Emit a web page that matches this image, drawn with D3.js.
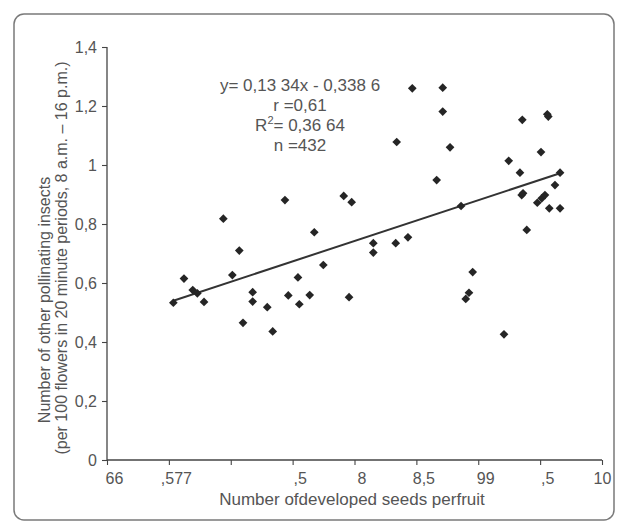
<!DOCTYPE html>
<html>
<head>
<meta charset="utf-8">
<script src="https://cdn.jsdelivr.net/npm/d3@7"></script>
<style>
  body { margin: 0; background: #fff; }
  svg { display: block; }
</style>
</head>
<body>
<svg id="chart" width="619" height="525"></svg>
<script>
// seeds per fruit (x) vs other pollinating insects (y)
const seeds = [
  6.536, 6.622, 6.693, 6.730, 6.784, 6.940, 7.013, 7.069, 7.099, 7.177,
  7.177, 7.295, 7.339, 7.438, 7.465, 7.543, 7.554, 7.638, 7.675, 7.748,
  7.913, 7.977, 7.956, 8.152, 8.152, 8.333, 8.341, 8.432, 8.467, 8.664,
  8.713, 8.713, 8.772, 8.861, 8.899, 8.925, 8.955, 9.208, 9.246, 9.337,
  9.351, 9.362, 9.356, 9.392, 9.477, 9.507, 9.513, 9.539, 9.558, 9.566,
  9.574, 9.620, 9.661, 9.661
];
const insects = [
  0.533, 0.615, 0.576, 0.565, 0.536, 0.818, 0.627, 0.710, 0.465, 0.569,
  0.537, 0.518, 0.436, 0.881, 0.558, 0.619, 0.528, 0.559, 0.772, 0.661,
  0.895, 0.874, 0.552, 0.735, 0.703, 0.735, 1.078, 0.755, 1.260, 0.949,
  1.262, 1.181, 1.060, 0.861, 0.546, 0.567, 0.637, 0.426, 1.014, 0.974,
  0.898, 0.904, 1.153, 0.780, 0.872, 1.044, 0.887, 0.898, 1.172, 1.164,
  0.853, 0.932, 0.974, 0.853
];

// fitted line, as drawn in the figure
const trendX = [6.536, 9.661];
const trendY = [0.540, 0.972];

const xTicks = [6, 6.5, 7, 7.5, 8, 8.5, 9, 9.5, 10];
const xTickLabels = ["66", ",577", "", ",5", "8", "8,5", "99", ",5", "10"];
const yTicks = [0, 0.2, 0.4, 0.6, 0.8, 1, 1.2, 1.4];
const yTickLabels = ["0", "0,2", "0,4", "0,6", "0,8", "1", "1,2", "1,4"];

const statLines = ["y= 0,13 34x - 0,338 6", "r =0,61", "R2= 0,36 64", "n =432"];

const font = "'Liberation Sans', Arial, sans-serif";
const textColor = "#555";

const svg = d3.select("#chart");
const margin = { top: 47, right: 17, bottom: 65, left: 107 };
const W = 619, H = 525;
const innerW = W - margin.left - margin.right,
    innerH = H - margin.top - margin.bottom;

// scanned frame
svg.append("rect")
    .attr("x", 14).attr("y", 14)
    .attr("width", 600).attr("height", 506)
    .attr("rx", 10)
    .attr("fill", "#fff")
    .attr("stroke", "#7a7a7a").attr("stroke-width", 1.5);

const g = svg.append("g").attr("transform", `translate(${margin.left},${margin.top})`);

const x = d3.scaleLinear().domain([6, 10]).range([0, innerW]);
const y = d3.scaleLinear().domain([0, 1.4]).range([innerH, 0]);

// y axis
const yAxis = g.append("g")
    .call(d3.axisLeft(y).tickValues(yTicks).tickSize(5).tickPadding(5)
        .tickFormat((d, i) => yTickLabels[i]));
// x axis
const xAxis = g.append("g")
    .attr("transform", `translate(0,${innerH})`)
    .call(d3.axisBottom(x).tickValues(xTicks).tickSize(5).tickPadding(8)
        .tickFormat((d, i) => xTickLabels[i]));

[xAxis, yAxis].forEach(a => {
    a.select(".domain").attr("stroke", "#444").attr("stroke-width", 1.3)
        .attr("d", a === xAxis ? `M0,0H${innerW}` : `M0,${innerH}V0`);
    a.selectAll(".tick line").attr("stroke", "#444").attr("stroke-width", 1.1);
    a.selectAll(".tick text")
        .attr("fill", textColor)
        .attr("font-family", font)
        .attr("font-size", "16px");
});
xAxis.selectAll(".tick text").attr("dx", (d, i) => i < xTicks.length - 1 ? 7 : 0);

// trend line
g.append("line")
    .attr("x1", x(trendX[0])).attr("y1", y(trendY[0]))
    .attr("x2", x(trendX[1])).attr("y2", y(trendY[1]))
    .attr("stroke", "#333").attr("stroke-width", 2);

// points as diamonds
const diamond = d3.symbol(d3.symbolSquare, 38);
g.selectAll(".pt")
    .data(seeds.map((s, i) => ({ s, v: insects[i] })))
    .join("path")
    .attr("class", "pt")
    .attr("d", diamond)
    .attr("transform", d => `translate(${x(d.s)},${y(d.v)}) rotate(45)`)
    .attr("fill", "#252525");

// regression stats
const stats = svg.append("g")
    .attr("font-family", font)
    .attr("font-size", "17px")
    .attr("fill", textColor)
    .attr("text-anchor", "middle");
statLines.forEach((t, i) => {
    const txt = stats.append("text")
        .attr("x", 300).attr("y", 91 + i * 20);
    if (t.startsWith("R2")) {
        txt.append("tspan").text("R");
        txt.append("tspan").attr("dy", -7).attr("font-size", "11px").text("2");
        txt.append("tspan").attr("dy", 7).text(t.slice(2));
    } else {
        txt.text(t);
    }
});

// axis titles
svg.append("text")
    .attr("x", 352).attr("y", 505)
    .attr("text-anchor", "middle")
    .attr("font-family", font).attr("font-size", "17px")
    .attr("fill", textColor)
    .text("Number ofdeveloped seeds perfruit");

const yTitle = ["Number of other pollinating insects",
    "(per 100 flowers in 20 minute periods, 8 a.m. \u2013 16 p.m.)"];
const yTitlePos = [[44, 300], [61, 258]];
yTitle.forEach((t, i) => {
    svg.append("text")
        .attr("transform", `translate(${yTitlePos[i][0]},${yTitlePos[i][1]}) rotate(-90)`)
        .attr("text-anchor", "middle")
        .attr("dy", "0.35em")
        .attr("font-family", font).attr("font-size", "16px")
        .attr("fill", textColor)
        .text(t);
});
</script>
</body>
</html>
